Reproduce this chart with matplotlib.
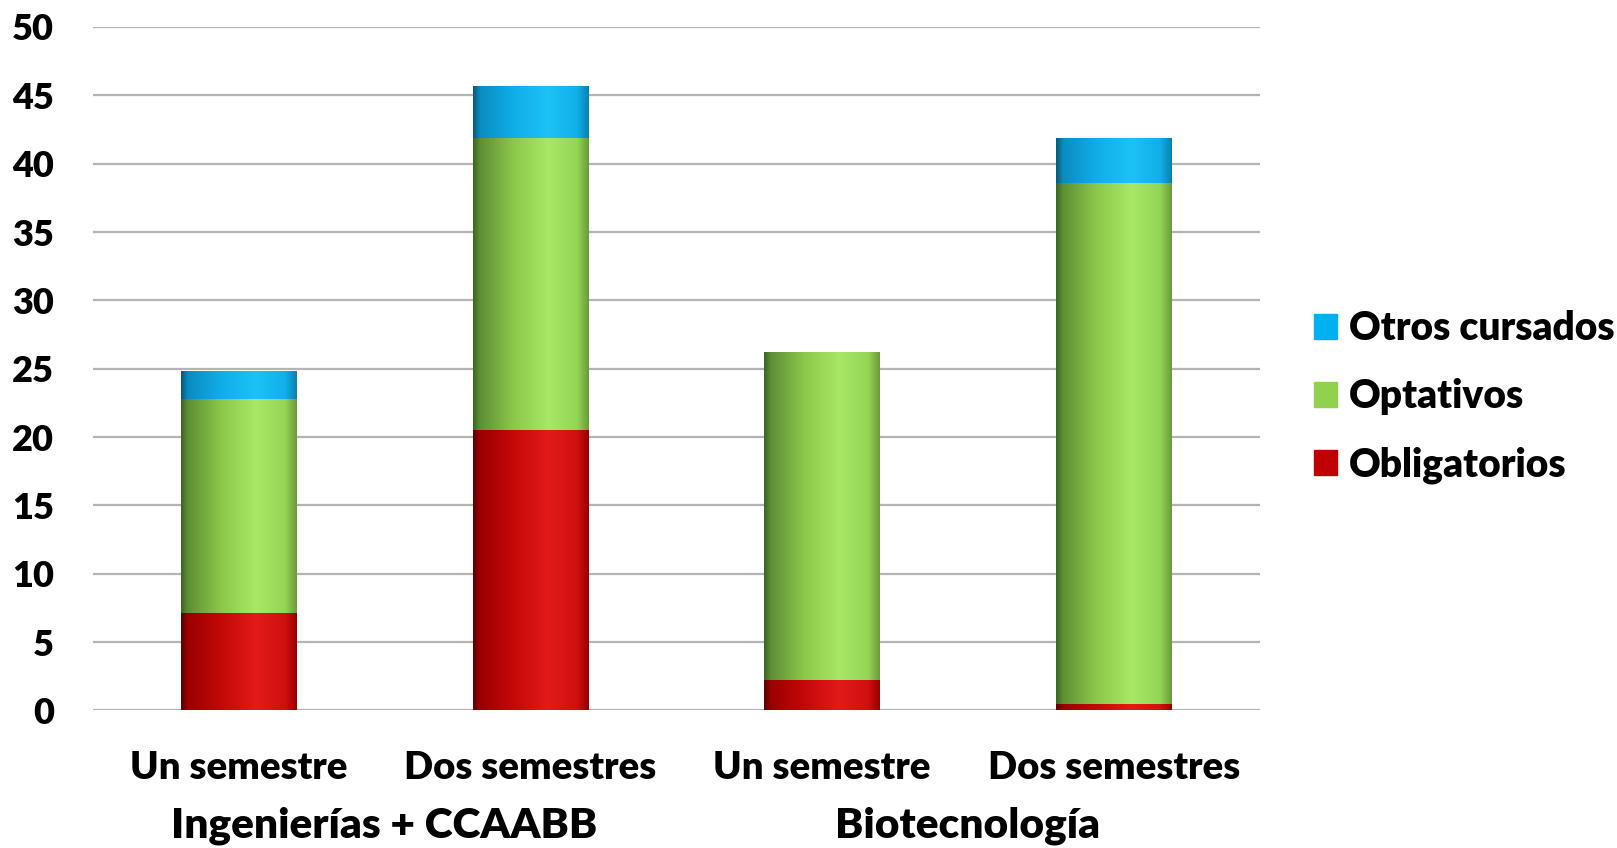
import numpy as np
import matplotlib.pyplot as plt
from matplotlib.colors import LinearSegmentedColormap
from matplotlib.patches import Patch

categories = ['Un semestre', 'Dos semestres', 'Un semestre', 'Dos semestres']
groups = ['Ingenierías + CCAABB', 'Biotecnología']
obligatorios = [7.15, 20.5, 2.2, 0.5]
optativos = [15.65, 21.35, 24.0, 38.1]
otros = [2.0, 3.85, 0.0, 3.3]

series = ['Obligatorios', 'Optativos', 'Otros cursados']
flat_colors = ['#C00000', '#92D050', '#00B0F0']
shades = [
    ['#5e0000', '#9a0000', '#c60808', '#e21a1a', '#d01010', '#9a0000'],
    ['#3c6623', '#5f8f35', '#8cc84a', '#a8e866', '#95d556', '#6c9a3a'],
    ['#08587a', '#0a8cc0', '#10aee8', '#1cc2f6', '#10b0e8', '#0a80b0'],
]

plt.rcParams['font.family'] = ['Lato', 'DejaVu Sans']
plt.rcParams['font.weight'] = 'heavy'

fig = plt.figure(figsize=(16.17, 8.48), dpi=100)
ax = fig.add_axes([0.0574, 0.1622, 0.7216, 0.806])

x = np.arange(len(categories))
width = 0.396
bottom = np.zeros(len(categories))
grad = np.linspace(0, 1, 256).reshape(1, -1)
for name, vals, col, sh in zip(series, [obligatorios, optativos, otros], flat_colors, shades):
    bars = ax.bar(x, vals, width, bottom=bottom, color=col, label=name, zorder=2)
    cmap = LinearSegmentedColormap.from_list(name, list(zip([0, 0.06, 0.35, 0.65, 0.9, 1.0], sh)))
    for b in bars:
        if b.get_height() <= 0:
            continue
        im = ax.imshow(grad, cmap=cmap, aspect='auto', zorder=3,
                       extent=[b.get_x(), b.get_x() + b.get_width(),
                               b.get_y(), b.get_y() + b.get_height()])
        im.set_clip_path(b)
    bottom += np.array(vals)

ax.set_xlim(-0.5, 3.5)
ax.set_ylim(0, 50)
ax.set_yticks(range(0, 51, 5))
ax.set_xticks(x)
ax.set_xticklabels(categories, fontsize=27.5)
ax.tick_params(axis='y', labelsize=26, length=0, pad=28)
ax.tick_params(axis='x', length=0, pad=29)
ax.yaxis.grid(True, color='#b4b4b4', lw=1.6, zorder=0)
ax.set_axisbelow(True)
for s in ax.spines.values():
    s.set_visible(False)

for i, g in enumerate(groups):
    fig.text((ax.transData.transform((2 * i + 0.5, 0))[0]) / fig.bbox.width, 1 - 826 / 848, g,
             ha='center', va='center', fontsize=30.5)

handles = [Patch(color=c) for c in flat_colors][::-1]
fig.legend(handles, series[::-1], loc='center left', bbox_to_anchor=(0.8125, 0.532),
           frameon=False, fontsize=28, handlelength=0.6, handleheight=0.6,
           handletextpad=0.3, labelspacing=0.8, borderpad=0, borderaxespad=0)

fig.savefig('out.png', dpi=100)
plt.close()
